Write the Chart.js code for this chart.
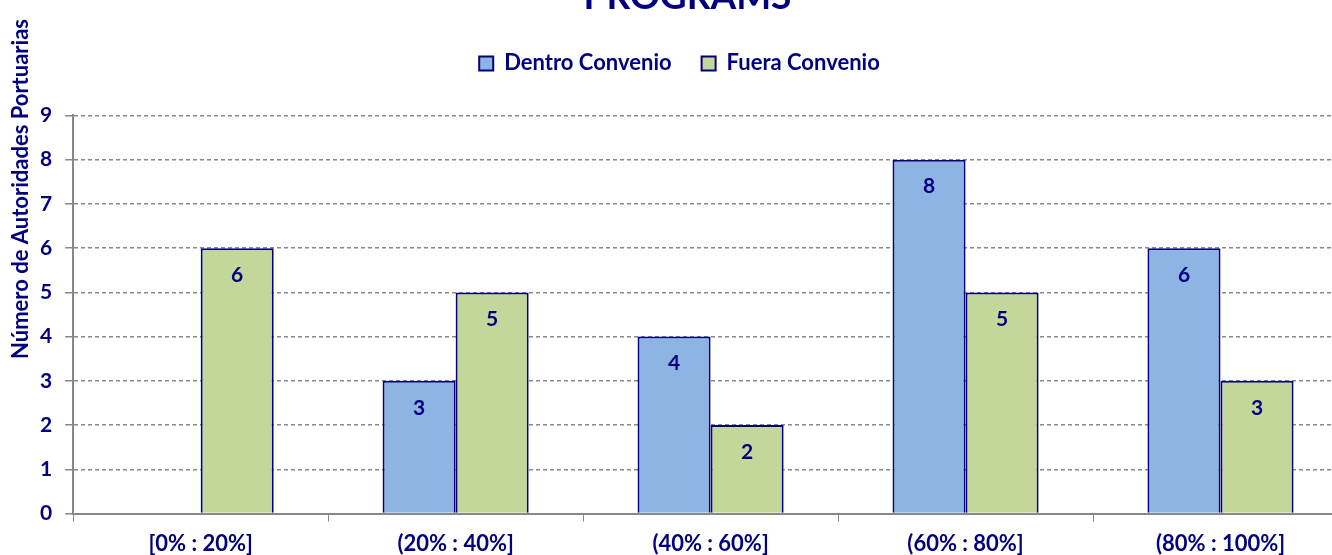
<!DOCTYPE html>
<html>
<head>
<meta charset="utf-8">
<script src="https://cdn.jsdelivr.net/npm/chart.js@4/dist/chart.umd.min.js"></script>
<style>
  html, body { margin: 0; padding: 0; overflow: hidden; background: #fff; }
  #wrap { position: absolute; left: 0; top: -30px; width: 1360px; height: 600px; }
</style>
</head>
<body>
<div id="wrap"><canvas id="canvas"></canvas></div>
<script>
const rangos = ['[0% : 20%]', '(20% : 40%]', '(40% : 60%]', '(60% : 80%]', '(80% : 100%]']
const dentro = [0, 3, 4, 8, 6]
const fuera = [6, 5, 2, 5, 3]
const yTicks = [0, 1, 2, 3, 4, 5, 6, 7, 8, 9]
const titulo = 'PROGRAMS'
const tituloY = 'Número de Autoridades Portuarias'

const navy = '#000080'
const fuente = 'Lato, "Open Sans", sans-serif'

// etiquetas dentro de la barra, cerca del tope
const etiquetas = {
    id: 'etiquetas',
    afterDatasetsDraw(chart) {
        const ctx = chart.ctx
        ctx.save()
        ctx.font = 'bold 21px ' + fuente
        ctx.fillStyle = navy
        ctx.textAlign = 'center'
        ctx.textBaseline = 'middle'
        chart.data.datasets.forEach((ds, i) => {
            chart.getDatasetMeta(i).data.forEach((bar, j) => {
                if (!ds.data[j]) return
                ctx.fillText(ds.data[j], bar.x, bar.y + 27)
            })
        })
        ctx.restore()
    }
}

// titulo del eje Y (va centrado más arriba que el área del gráfico)
const ejeY = {
    id: 'ejeY',
    afterDraw(chart) {
        const ctx = chart.ctx
        ctx.save()
        ctx.translate(21, 219)
        ctx.rotate(-Math.PI / 2)
        ctx.font = 'bold 22px ' + fuente
        ctx.fillStyle = navy
        ctx.textAlign = 'center'
        ctx.textBaseline = 'middle'
        ctx.fillText(tituloY, 0, 0)
        ctx.restore()
    }
}

// mas espacio debajo de la leyenda y un poco corrida a la izquierda
const margenLeyenda = {
    id: 'margenLeyenda',
    beforeInit(chart) {
        const legend = chart.legend
        const fit = legend.fit
        legend.fit = function () {
            fit.bind(legend)()
            this.height += 31
        }
        const draw = legend.draw
        legend.draw = function () {
            chart.ctx.save()
            chart.ctx.translate(-8, 0)
            draw.call(legend)
            chart.ctx.restore()
        }
    }
}

const ctx = document.getElementById('canvas').getContext('2d')
const myChart = new Chart(ctx, {
    type: 'bar',
    data: {
        labels: rangos,
        datasets: [{
            label: 'Dentro Convenio',
            data: dentro,
            backgroundColor: '#8EB4E3',
            borderColor: navy,
            borderWidth: 2,
            borderSkipped: 'bottom'
        }, {
            label: 'Fuera Convenio',
            data: fuera,
            backgroundColor: '#C4D79B',
            borderColor: navy,
            borderWidth: 2,
            borderSkipped: 'bottom'
        }]
    },
    options: {
        responsive: true,
        maintainAspectRatio: false,
        animation: false,
        layout: { padding: { top: 5, left: 27, right: 12, bottom: 4 } },
        categoryPercentage: 0.573,
        barPercentage: 1,
        plugins: {
            title: {
                display: true,
                text: titulo,
                color: navy,
                font: { family: fuente, size: 37, weight: 'bold' },
                padding: { top: 0, bottom: 3 }
            },
            legend: {
                labels: {
                    color: navy,
                    font: { family: fuente, size: 22, weight: 'bold' },
                    boxWidth: 14,
                    boxHeight: 14,
                    padding: 30
                }
            },
            tooltip: { enabled: false }
        },
        scales: {
            x: {
                offset: true,
                grid: {
                    display: true,
                    offset: true,
                    drawOnChartArea: false,
                    tickLength: 8,
                    color: '#888888'
                },
                border: { color: '#888888', width: 2 },
                ticks: {
                    color: navy,
                    font: { family: fuente, size: 22, weight: 'bold' },
                    padding: 9
                }
            },
            y: {
                min: 0,
                max: 9,
                afterBuildTicks: (axis) => { axis.ticks = yTicks.map(v => ({ value: v })) },
                grid: {
                    color: '#888888',
                    lineWidth: 1.5,
                    tickLength: 8,
                    tickBorderDash: []
                },
                border: { color: '#888888', width: 2, dash: [4, 3] },
                ticks: {
                    color: navy,
                    font: { family: fuente, size: 21, weight: 'bold' },
                    padding: 13
                }
            }
        }
    },
    plugins: [etiquetas, ejeY, margenLeyenda]
})
</script>
</body>
</html>
